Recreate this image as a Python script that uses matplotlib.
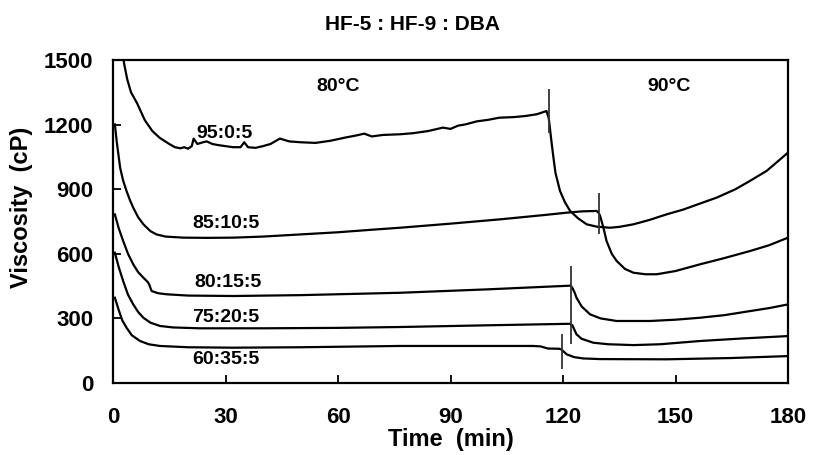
import matplotlib
matplotlib.use("Agg")
import matplotlib.pyplot as plt

plt.rcParams['font.family'] = ['Liberation Sans', 'DejaVu Sans']
plt.rcParams['font.weight'] = 'bold'

# ---- data ----
t_95 = [2.3, 3.0, 3.8, 4.8, 6.4, 8.5, 10.5, 12.5, 15, 16.5, 18, 19, 20, 21, 21.5, 22.5, 24, 25,
        26.5, 28, 30, 32, 34, 35, 36, 38, 40, 42, 44.5, 47, 50, 54, 58, 62, 65, 67, 69, 72,
        76.5, 80, 84, 88, 90, 92, 94, 97, 100, 103, 107, 110, 113, 115.6, 116.2, 117, 117.5,
        118, 119.2, 120.5, 121.9, 124, 126.3, 129, 132.5, 135, 138.8, 143, 147.6, 152, 156,
        161, 166, 170, 174.3, 177, 180]
v_95 = [1560, 1480, 1410, 1350, 1300, 1220, 1170, 1138, 1110, 1095, 1090, 1095, 1088, 1100, 1135,
        1110, 1118, 1122, 1110, 1105, 1100, 1095, 1095, 1118, 1095, 1092, 1100, 1110, 1135, 1122,
        1118, 1115, 1125, 1140, 1150, 1158, 1145, 1152, 1155, 1160, 1170, 1186, 1180, 1195, 1201,
        1215, 1222, 1232, 1235, 1240, 1248, 1263, 1230, 1110, 1040, 975, 892, 840, 799, 765, 737,
        726, 721, 725, 737, 757, 783, 805, 830, 861, 900, 940, 985, 1025, 1070]

t_85 = [0.5, 1.0, 1.9, 2.7, 3.6, 4.5, 5.4, 6.7, 8.1, 10, 11.6, 14, 18.8, 25, 32, 40, 50, 60, 70,
        76.5, 90, 103.2, 115, 121, 125, 129, 129.5, 129.9, 130.8, 131.6, 133, 134.3, 136.5,
        138.8, 142, 145, 150, 156.5, 163, 169.9, 175, 180]
v_85 = [1201, 1120, 1000, 940, 892, 850, 814, 770, 737, 705, 690, 680, 675, 674, 675, 680, 690,
        700, 713, 721, 740, 760, 780, 791, 797, 799, 790, 776, 720, 660, 600, 567, 530, 512, 505,
        505, 520, 551, 580, 613, 640, 675]

t_80 = [0.5, 1.5, 2.7, 4.0, 5.4, 6.7, 8.1, 9.2, 9.6, 10.3, 12, 14.3, 20, 32, 50, 76.5, 100,
        121.9, 122.4, 123.1, 123.6, 125, 127.2, 130, 134.3, 143.2, 150, 156.5, 163, 169.9,
        175, 180]
v_80 = [783, 720, 660, 600, 551, 515, 489, 470, 460, 427, 417, 412, 406, 404, 408, 419, 435,
        452, 445, 420, 396, 355, 319, 300, 288, 288, 294, 303, 315, 334, 348, 365]

t_75 = [0.5, 1.5, 2.7, 4.0, 5.4, 6.7, 8.1, 10, 12.5, 16, 23.2, 40, 60, 76.5, 100, 121.9, 122.5,
        123.6, 125, 128.1, 132, 138.8, 146, 156.5, 168, 180]
v_75 = [605, 540, 474, 410, 365, 330, 303, 280, 265, 258, 254, 254, 256, 260, 268, 275, 268,
        226, 205, 187, 180, 176, 180, 195, 207, 218]

t_60 = [0.5, 1.5, 2.5, 3.6, 5.0, 7.2, 9.5, 12.5, 20, 32, 50, 76.5, 100, 112, 114, 116, 119,
        119.6, 121, 123, 125.4, 130, 147.6, 165, 180]
v_60 = [396, 340, 290, 257, 222, 195, 180, 172, 166, 164, 166, 172, 172, 172, 170, 160, 159,
        155, 133, 120, 114, 111, 110, 116, 125]

series_t = [t_95, t_85, t_80, t_75, t_60]
series_v = [v_95, v_85, v_80, v_75, v_60]

# vertical event marks (time, low, high)
mark_t = [116.2, 129.5, 122.2, 119.6]
mark_lo = [1160, 690, 181, 65]
mark_hi = [1365, 884, 543, 227]

labels = ['95:0:5', '85:10:5', '80:15:5', '75:20:5', '60:35:5']
label_t = [29.7, 30.1, 30.6, 30.1, 30.1]
label_v = [1159, 740, 466, 303, 110]

temp_labels = ['80°C', '90°C']
temp_t = [60, 148.4]
temp_v = [1379, 1379]

x_ticks = [0, 30, 60, 90, 120, 150, 180]
y_ticks = [0, 300, 600, 900, 1200, 1500]

# ---- figure ----
fig = plt.figure(figsize=(8.13, 4.55), dpi=100)
ax = fig.add_axes([113/813, 1-383/455, (788-113)/813, (383-60)/455])

for t, v in zip(series_t, series_v):
    ax.plot(t, v, color='black', lw=1.6, solid_joinstyle='round')

ax.vlines(mark_t, mark_lo, mark_hi, color='#333333', lw=1.3)

for s, x, y in zip(labels, label_t, label_v):
    ax.text(x, y, s, ha='center', va='center', fontsize=14, fontweight='bold')
for s, x, y in zip(temp_labels, temp_t, temp_v):
    ax.text(x, y, s, ha='center', va='center', fontsize=14, fontweight='bold')

ax.set_xlim(0, 180)
ax.set_ylim(0, 1500)
ax.set_xticks(x_ticks)
ax.set_yticks(y_ticks)
ax.tick_params(direction='in', length=6, width=1.3, labelsize=16)
ax.tick_params(axis='x', pad=17)
ax.tick_params(axis='y', pad=14)
for lab in ax.get_xticklabels() + ax.get_yticklabels():
    lab.set_fontweight('bold')
for sp in ax.spines.values():
    sp.set_linewidth(1.6)

ax.set_xlabel('Time  (min)', fontsize=17, fontweight='bold', labelpad=0)
ax.set_ylabel('Viscosity  (cP)', fontsize=17, fontweight='bold')
ax.yaxis.set_label_coords(-0.118, 0.545)
fig.text(412/813, 1-24/455, 'HF-5 : HF-9 : DBA', ha='center', va='center',
         fontsize=15, fontweight='bold')

fig.savefig('out.png', dpi=100)
